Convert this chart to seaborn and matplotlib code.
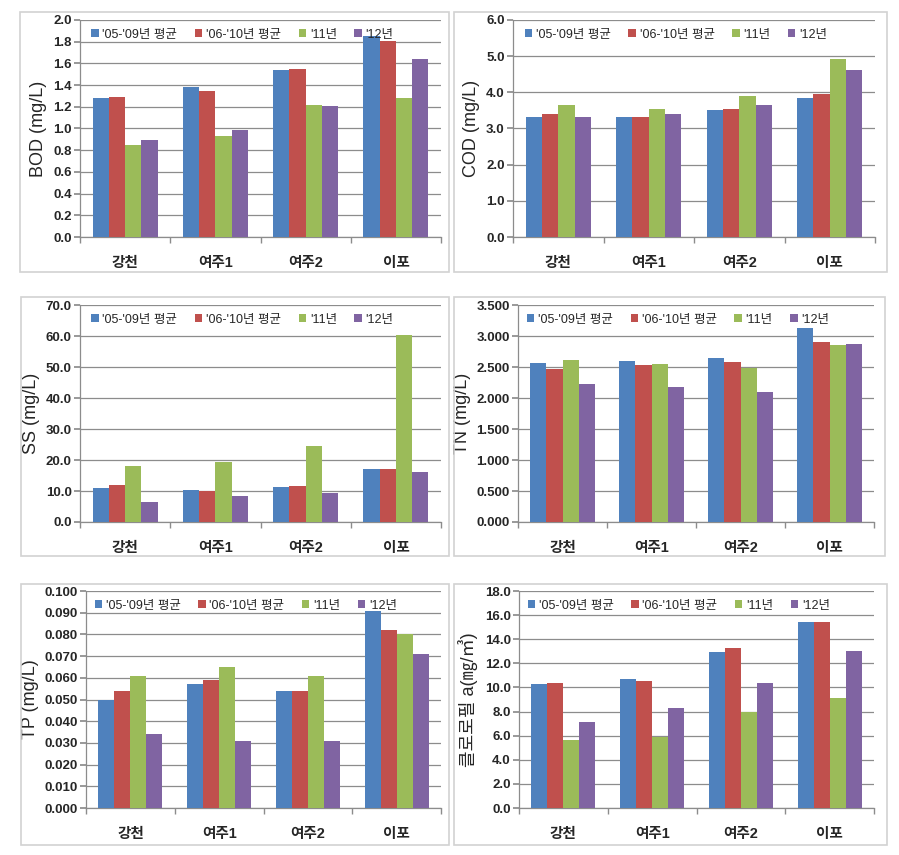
import numpy as np
import pandas as pd
import matplotlib
matplotlib.use("Agg")
import matplotlib.pyplot as plt
from matplotlib.patches import Rectangle
from matplotlib.ticker import FixedLocator, FormatStrFormatter
import seaborn as sns

sites = ["강천", "여주1", "여주2", "이포"]
series = ["'05-'09년 평균", "'06-'10년 평균", "'11년", "'12년"]
colors = ["#4F81BD", "#C0504D", "#9BBB59", "#8064A2"]

bod = [[1.28, 1.29, 0.85, 0.89], [1.38, 1.35, 0.93, 0.99], [1.54, 1.55, 1.22, 1.21], [1.85, 1.81, 1.28, 1.64]]
cod = [[3.32, 3.40, 3.65, 3.32], [3.32, 3.32, 3.55, 3.40], [3.52, 3.55, 3.90, 3.65], [3.85, 3.95, 4.92, 4.62]]
ss = [[11.0, 12.0, 18.0, 6.5], [10.3, 10.0, 19.3, 8.5], [11.3, 11.5, 24.5, 9.5], [17.0, 17.0, 60.3, 16.0]]
tn = [[2.57, 2.47, 2.62, 2.23], [2.60, 2.54, 2.55, 2.17], [2.65, 2.58, 2.48, 2.10], [3.13, 2.91, 2.86, 2.87]]
tp = [[0.050, 0.054, 0.061, 0.034], [0.057, 0.059, 0.065, 0.031], [0.054, 0.054, 0.061, 0.031], [0.091, 0.082, 0.080, 0.071]]
chla = [[10.3, 10.4, 5.6, 7.1], [10.7, 10.5, 5.9, 8.3], [12.9, 13.3, 8.0, 10.4], [15.4, 15.4, 9.1, 13.0]]

ylabels = ["BOD (mg/L)", "COD (mg/L)", "SS (mg/L)", "TN (mg/L)", "TP (mg/L)", "클로로필 a(㎎/㎥)"]
ymaxs = [2.0, 6.0, 70.0, 3.5, 0.1, 18.0]
ysteps = [0.2, 1.0, 10.0, 0.5, 0.01, 2.0]
yfmts = ["%.1f", "%.1f", "%.1f", "%.3f", "%.3f", "%.1f"]
datasets = [bod, cod, ss, tn, tp, chla]

sns.set_theme(style="white")
plt.rcParams['font.family'] = ['Liberation Sans', 'Noto Sans CJK KR', 'DejaVu Sans']

W, H = 899, 855
fig = plt.figure(figsize=(W / 100, H / 100), dpi=100)

# axes boxes in pixels: left, top, right, bottom
boxes = [(80, 20, 441, 237), (513, 20, 875, 237),
         (80, 305, 441, 522), (518, 305, 874, 522),
         (86, 591, 441, 808), (519, 591, 874, 808)]
borders = [(20, 12, 449, 272), (454, 12, 887, 272),
           (21, 297, 449, 556), (454, 297, 885, 556),
           (21, 584, 449, 845), (454, 584, 887, 845)]

for (l, t, r, b) in borders:
    fig.patches.append(Rectangle((l / W, 1 - b / H), (r - l) / W, (b - t) / H,
                                 transform=fig.transFigure, fill=False,
                                 edgecolor="#D2D2D2", linewidth=1.2))

for i, data in enumerate(datasets):
    l, t, r, b = boxes[i]
    ax = fig.add_axes([l / W, 1 - b / H, (r - l) / W, (b - t) / H])
    rows = []
    for si, site in enumerate(sites):
        for k, s in enumerate(series):
            rows.append({"site": site, "series": s, "value": data[si][k]})
    df = pd.DataFrame(rows)
    sns.barplot(data=df, x="site", y="value", hue="series", order=sites,
                hue_order=series, palette=colors, width=0.72, saturation=1,
                ax=ax, legend=True, zorder=3, linewidth=0)
    ax.set_ylim(0, ymaxs[i])
    ax.set_xlim(-0.5, 3.5)
    ticks = np.arange(0, ymaxs[i] + ysteps[i] / 2, ysteps[i])
    ax.yaxis.set_major_locator(FixedLocator(ticks))
    ax.yaxis.set_major_formatter(FormatStrFormatter(yfmts[i]))
    ax.grid(axis="y", color="#8C8C8C", linewidth=0.9, zorder=0)
    ax.set_axisbelow(True)
    for sp in ["top", "right"]:
        ax.spines[sp].set_visible(False)
    for sp in ["left", "bottom"]:
        ax.spines[sp].set_color("#8C8C8C")
        ax.spines[sp].set_linewidth(0.9)
    ax.set_xlabel("")
    ax.set_ylabel(ylabels[i], fontsize=13, labelpad=4)
    ax.tick_params(axis="y", which="major", left=True, length=4, color="#8C8C8C",
                   labelsize=9.5, pad=2)
    ax.tick_params(axis="x", which="major", bottom=False, labelsize=10.5, pad=8)
    ax.xaxis.set_minor_locator(FixedLocator([-0.5, 0.5, 1.5, 2.5, 3.5]))
    ax.tick_params(axis="x", which="minor", bottom=True, length=4, color="#8C8C8C")
    for lab in ax.get_yticklabels() + ax.get_xticklabels():
        lab.set_fontweight("bold")
    handles, labels = ax.get_legend_handles_labels()
    ax.legend(handles, labels, loc="upper center", bbox_to_anchor=(0.45, 1.0),
              ncol=4, frameon=False, fontsize=9, handlelength=0.6,
              handleheight=0.6, handletextpad=0.3, columnspacing=1.4,
              borderaxespad=0.3)

fig.savefig("out.png", dpi=100, facecolor="white")
